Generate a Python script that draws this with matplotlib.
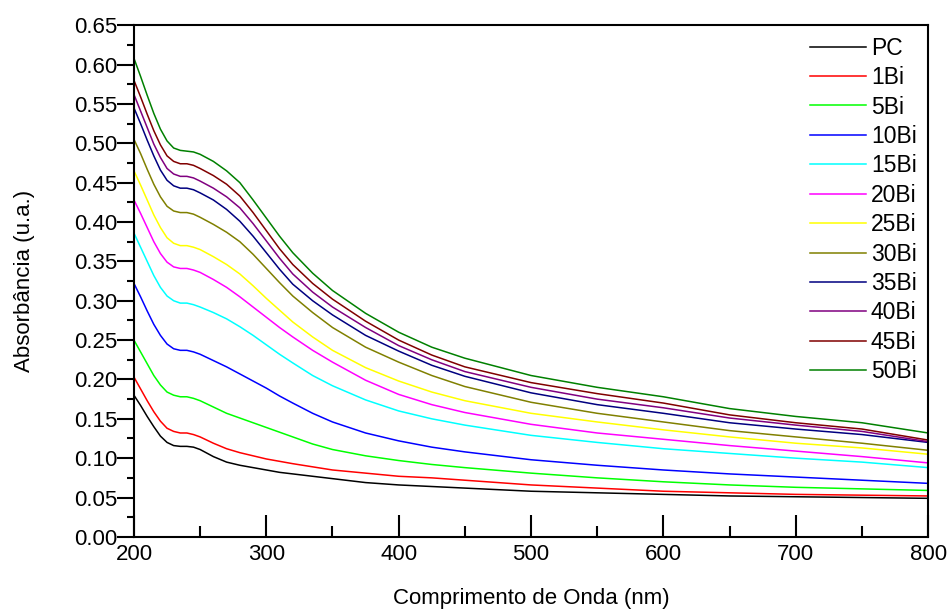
import matplotlib
matplotlib.use("Agg")
import matplotlib.pyplot as plt
from matplotlib.ticker import MultipleLocator, FormatStrFormatter

plt.rcParams['font.family'] = ['Liberation Sans', 'DejaVu Sans']

# wavelength grid (nm)
wl = [200, 205, 210, 215, 220, 225, 230, 235, 240, 245, 250, 260, 270, 280, 290, 300,
      310, 320, 335, 350, 375, 400, 425, 450, 500, 550, 600, 650, 700, 750, 800]

# absorbance
pc   = [0.180, 0.167, 0.153, 0.140, 0.128, 0.120, 0.116, 0.115, 0.115, 0.114, 0.111, 0.102, 0.095, 0.091, 0.088, 0.085,
        0.082, 0.080, 0.077, 0.074, 0.069, 0.066, 0.064, 0.062, 0.058, 0.056, 0.054, 0.052, 0.051, 0.050, 0.049]
bi1  = [0.203, 0.188, 0.173, 0.159, 0.147, 0.138, 0.134, 0.132, 0.132, 0.130, 0.127, 0.119, 0.112, 0.107, 0.103, 0.099,
        0.096, 0.093, 0.089, 0.085, 0.081, 0.077, 0.075, 0.072, 0.066, 0.062, 0.058, 0.056, 0.054, 0.053, 0.052]
bi5  = [0.250, 0.235, 0.220, 0.205, 0.193, 0.184, 0.180, 0.178, 0.178, 0.176, 0.173, 0.165, 0.157, 0.151, 0.145, 0.139,
        0.133, 0.127, 0.118, 0.111, 0.103, 0.097, 0.092, 0.088, 0.081, 0.075, 0.070, 0.066, 0.063, 0.061, 0.059]
bi10 = [0.322, 0.305, 0.287, 0.270, 0.256, 0.245, 0.239, 0.237, 0.237, 0.235, 0.232, 0.224, 0.216, 0.207, 0.198, 0.189,
        0.179, 0.170, 0.157, 0.146, 0.132, 0.122, 0.114, 0.108, 0.098, 0.091, 0.085, 0.080, 0.076, 0.072, 0.068]
bi15 = [0.386, 0.368, 0.350, 0.332, 0.317, 0.306, 0.300, 0.297, 0.297, 0.295, 0.292, 0.285, 0.277, 0.267, 0.256, 0.244,
        0.232, 0.221, 0.205, 0.192, 0.174, 0.160, 0.150, 0.142, 0.129, 0.120, 0.112, 0.106, 0.100, 0.095, 0.088]
bi20 = [0.428, 0.411, 0.393, 0.375, 0.360, 0.349, 0.343, 0.341, 0.341, 0.339, 0.336, 0.327, 0.317, 0.305, 0.292, 0.279,
        0.266, 0.254, 0.237, 0.222, 0.199, 0.181, 0.168, 0.158, 0.143, 0.132, 0.124, 0.116, 0.109, 0.102, 0.094]
bi25 = [0.465, 0.447, 0.428, 0.409, 0.393, 0.380, 0.373, 0.370, 0.370, 0.368, 0.365, 0.356, 0.346, 0.334, 0.319, 0.303,
        0.288, 0.273, 0.254, 0.237, 0.215, 0.198, 0.184, 0.173, 0.157, 0.146, 0.136, 0.127, 0.119, 0.113, 0.105]
bi30 = [0.505, 0.487, 0.467, 0.448, 0.432, 0.420, 0.414, 0.412, 0.412, 0.410, 0.406, 0.397, 0.387, 0.375, 0.359, 0.341,
        0.323, 0.306, 0.285, 0.266, 0.241, 0.222, 0.205, 0.191, 0.171, 0.157, 0.146, 0.135, 0.127, 0.119, 0.110]
bi35 = [0.545, 0.525, 0.504, 0.484, 0.466, 0.453, 0.446, 0.443, 0.443, 0.441, 0.437, 0.428, 0.416, 0.401, 0.382, 0.361,
        0.340, 0.321, 0.300, 0.282, 0.256, 0.236, 0.218, 0.204, 0.183, 0.168, 0.157, 0.145, 0.137, 0.130, 0.120]
bi40 = [0.562, 0.541, 0.520, 0.499, 0.482, 0.468, 0.461, 0.458, 0.458, 0.456, 0.452, 0.443, 0.432, 0.418, 0.398, 0.376,
        0.354, 0.334, 0.311, 0.292, 0.266, 0.243, 0.225, 0.210, 0.190, 0.175, 0.164, 0.151, 0.142, 0.134, 0.121]
bi45 = [0.580, 0.559, 0.537, 0.516, 0.498, 0.484, 0.477, 0.474, 0.474, 0.472, 0.468, 0.459, 0.448, 0.433, 0.412, 0.389,
        0.366, 0.346, 0.322, 0.302, 0.274, 0.250, 0.231, 0.216, 0.196, 0.182, 0.170, 0.155, 0.145, 0.137, 0.123]
bi50 = [0.608, 0.585, 0.561, 0.538, 0.518, 0.503, 0.494, 0.491, 0.490, 0.489, 0.486, 0.477, 0.465, 0.450, 0.428, 0.405,
        0.382, 0.361, 0.335, 0.313, 0.284, 0.260, 0.241, 0.227, 0.205, 0.190, 0.178, 0.163, 0.153, 0.145, 0.132]

series = [pc, bi1, bi5, bi10, bi15, bi20, bi25, bi30, bi35, bi40, bi45, bi50]
labels = ['PC', '1Bi', '5Bi', '10Bi', '15Bi', '20Bi', '25Bi', '30Bi', '35Bi', '40Bi', '45Bi', '50Bi']
colors = ['#000000', '#FF0000', '#00FF00', '#0000FF', '#00FFFF', '#FF00FF', '#FFFF00',
          '#808000', '#000080', '#800080', '#800000', '#008000']

fig = plt.figure(figsize=(9.5, 6.15), dpi=100)
ax = fig.add_axes([0.141, 0.127, 0.836, 0.832])

for y, lab, c in zip(series, labels, colors):
    ax.plot(wl, y, color=c, lw=1.1, label=lab)

ax.set_xlim(200, 800)
ax.set_ylim(0, 0.65)
ax.xaxis.set_major_locator(MultipleLocator(100))
ax.xaxis.set_minor_locator(MultipleLocator(50))
ax.yaxis.set_major_locator(MultipleLocator(0.05))
ax.yaxis.set_minor_locator(MultipleLocator(0.025))
ax.yaxis.set_major_formatter(FormatStrFormatter('%.2f'))

ax.tick_params(axis='x', which='major', direction='in', length=16, width=1.5, labelsize=16, pad=5)
ax.tick_params(axis='x', which='minor', direction='in', length=8, width=1.5)
ax.tick_params(axis='y', which='major', direction='out', length=12, width=1.5, labelsize=16, pad=0)
ax.tick_params(axis='y', which='minor', direction='out', length=5, width=1.5)
for s in ax.spines.values():
    s.set_linewidth(1.5)

ax.set_xlabel('Comprimento de Onda (nm)', fontsize=16, labelpad=17)
ax.set_ylabel('Absorbância (u.a.)', fontsize=16, labelpad=28)

ax.legend(loc='upper right', bbox_to_anchor=(1.0, 1.0), frameon=False, fontsize=16.5,
          handlelength=2.45, labelspacing=0.28, handletextpad=0.22, borderaxespad=0.1,
          borderpad=0.4)

fig.savefig('out.png', dpi=100)
